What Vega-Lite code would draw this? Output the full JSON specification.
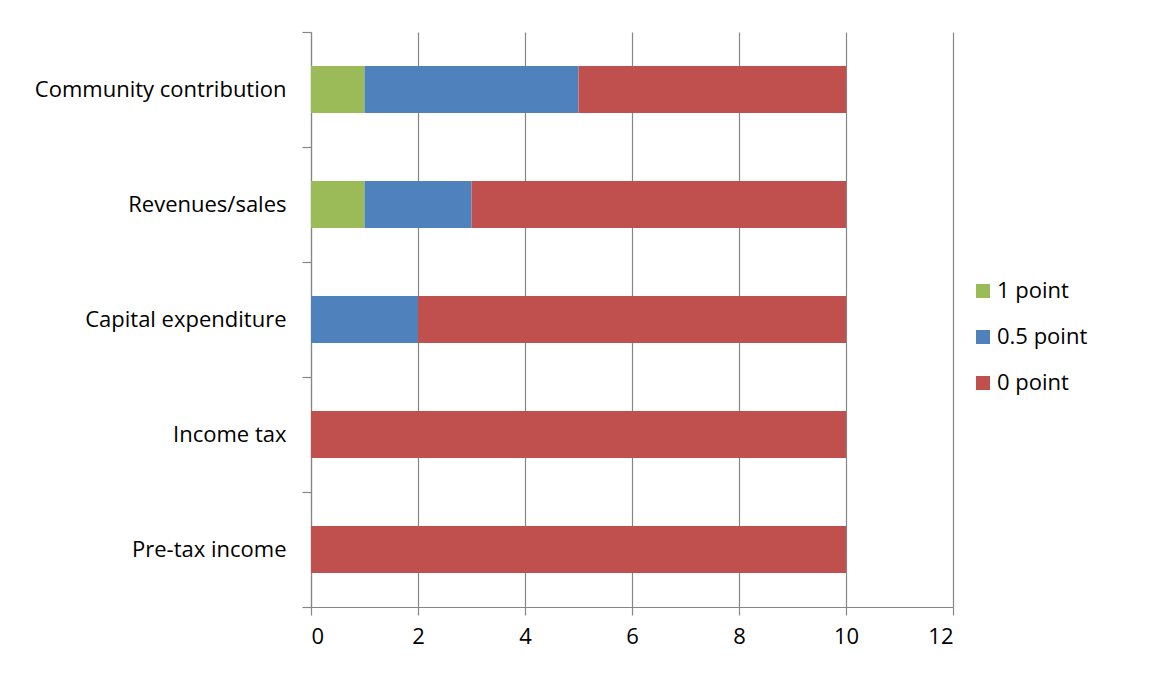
{
  "$schema": "https://vega.github.io/schema/vega-lite/v6.json",
  "width": 642,
  "height": 575,
  "autosize": {"type": "none"},
  "padding": {"left": 311, "top": 32, "right": 200, "bottom": 68},
  "background": "white",
  "data": {
    "values": [
      {"category": "Community contribution", "score": "1 point", "points": 1, "count": 1},
      {"category": "Community contribution", "score": "0.5 point", "points": 0.5, "count": 4},
      {"category": "Community contribution", "score": "0 point", "points": 0, "count": 5},
      {"category": "Revenues/sales", "score": "1 point", "points": 1, "count": 1},
      {"category": "Revenues/sales", "score": "0.5 point", "points": 0.5, "count": 2},
      {"category": "Revenues/sales", "score": "0 point", "points": 0, "count": 7},
      {"category": "Capital expenditure", "score": "0.5 point", "points": 0.5, "count": 2},
      {"category": "Capital expenditure", "score": "0 point", "points": 0, "count": 8},
      {"category": "Income tax", "score": "0 point", "points": 0, "count": 10},
      {"category": "Pre-tax income", "score": "0 point", "points": 0, "count": 10}
    ]
  },
  "mark": {"type": "bar", "height": {"band": 0.41}},
  "encoding": {
    "y": {
      "field": "category",
      "type": "nominal",
      "sort": ["Community contribution", "Revenues/sales", "Capital expenditure", "Income tax", "Pre-tax income"],
      "scale": {"paddingInner": 0, "paddingOuter": 0},
      "axis": {
        "title": null,
        "tickBand": "extent",
        "tickSize": 9,
        "labelPadding": 16,
        "labelLimit": 400,
        "grid": false
      }
    },
    "x": {
      "field": "count",
      "type": "quantitative",
      "stack": "zero",
      "scale": {"domain": [0, 12], "nice": false},
      "axis": {
        "title": null,
        "values": [0, 2, 4, 6, 8, 10, 12],
        "grid": true,
        "tickSize": 8,
        "labelPadding": 11
      }
    },
    "color": {
      "field": "score",
      "type": "nominal",
      "scale": {"domain": ["1 point", "0.5 point", "0 point"], "range": ["#9BBB59", "#4F81BD", "#C0504D"]},
      "legend": {
        "title": null,
        "orient": "none",
        "legendX": 661,
        "legendY": 248,
        "symbolType": "square",
        "symbolSize": 196,
        "symbolStrokeWidth": 0,
        "labelFontSize": 22,
        "labelFont": "Open Sans",
        "labelColor": "#000000",
        "labelOffset": 3,
        "rowPadding": 24
      }
    },
    "order": {"field": "points", "type": "quantitative", "sort": "descending"}
  },
  "config": {
    "view": {"stroke": null},
    "axis": {
      "domainColor": "#868686",
      "tickColor": "#868686",
      "gridColor": "#868686",
      "gridOpacity": 1,
      "domainWidth": 1.2,
      "tickWidth": 1.2,
      "gridWidth": 1.2,
      "labelFont": "Open Sans",
      "labelFontSize": 22,
      "labelColor": "#000000"
    }
  }
}
